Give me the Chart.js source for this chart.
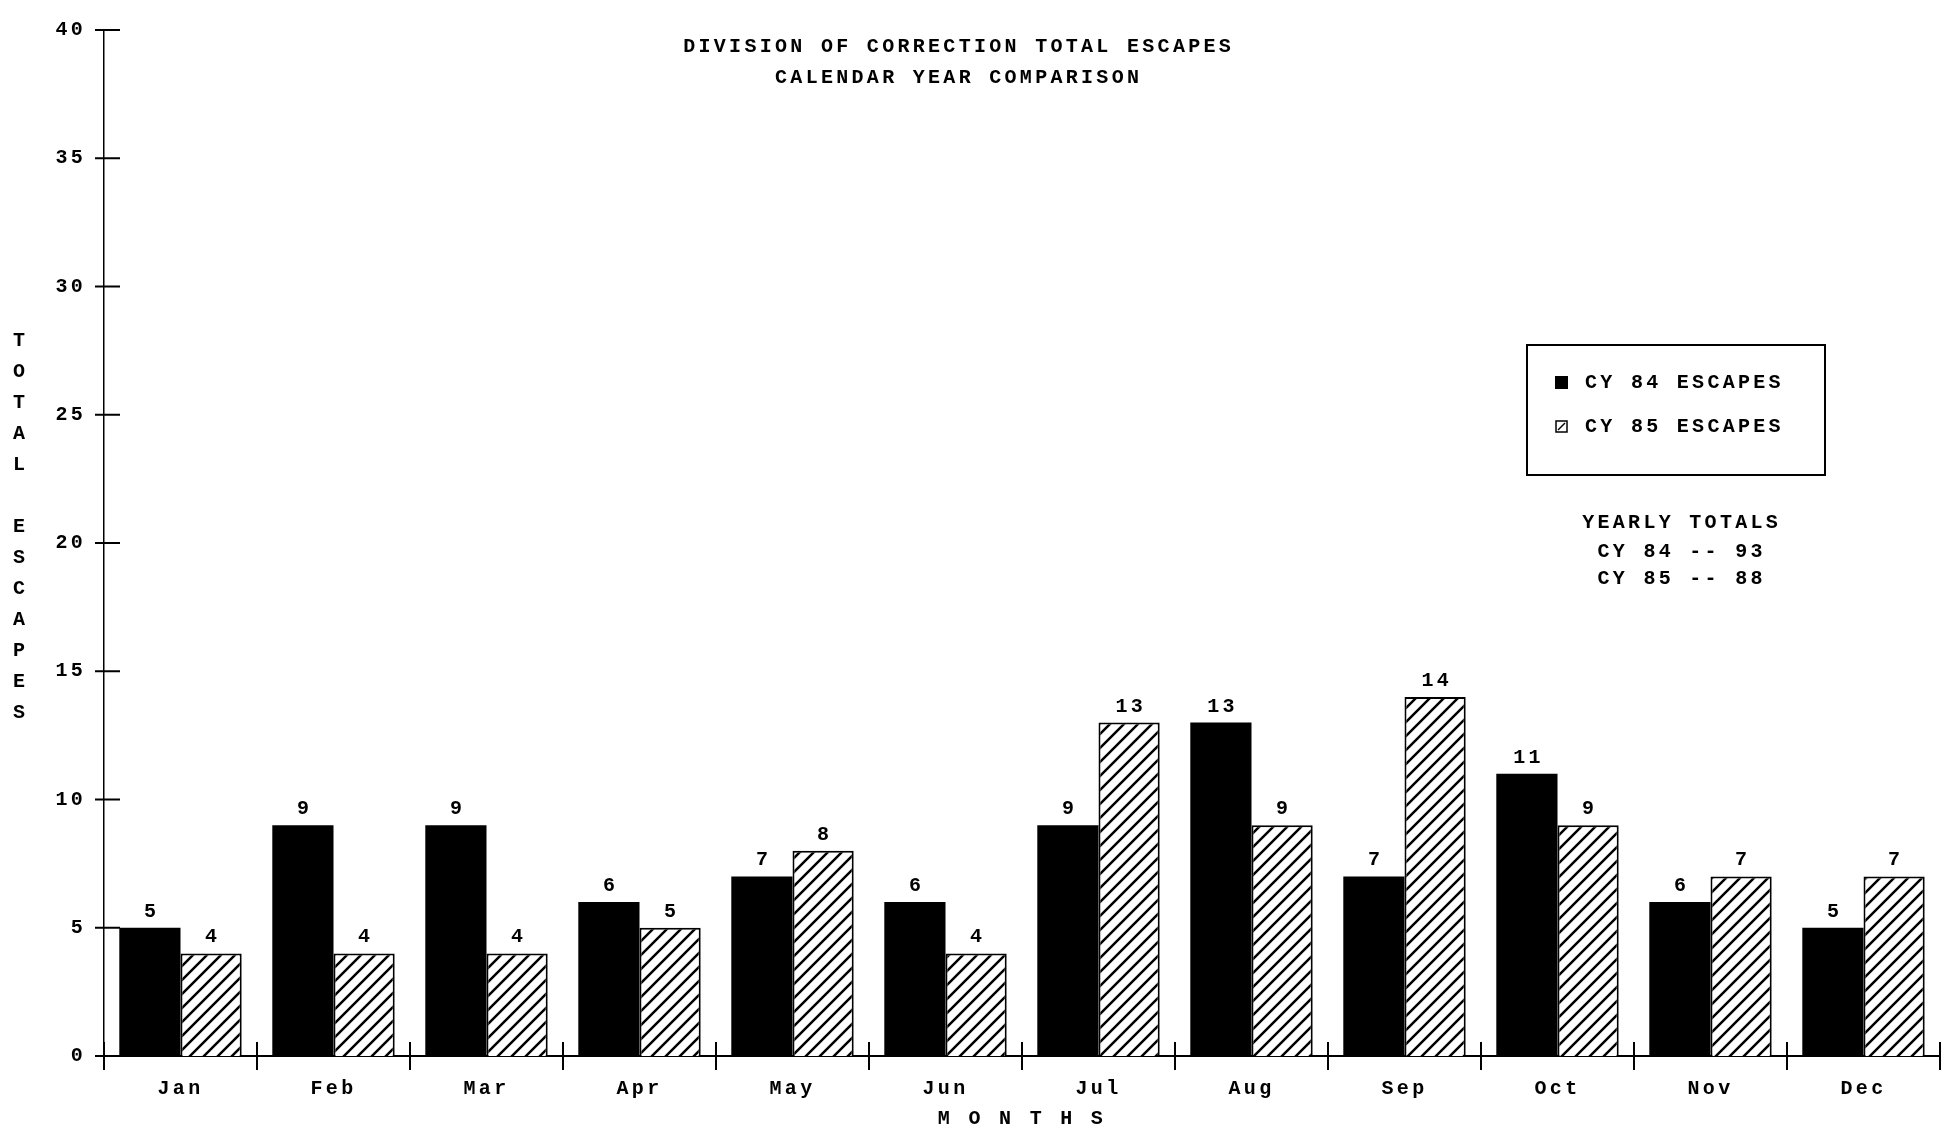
<!DOCTYPE html>
<html>
<head>
<meta charset="utf-8">
<script src="https://cdn.jsdelivr.net/npm/chart.js@4.4.7/dist/chart.umd.min.js"></script>
<style>
  html, body { margin: 0; padding: 0; background: #fff; }
  canvas { display: block; }
</style>
</head>
<body>
<canvas id="chart" width="1943" height="1133"></canvas>
<script>
  // data
  const months = ['Jan', 'Feb', 'Mar', 'Apr', 'May', 'Jun', 'Jul', 'Aug', 'Sep', 'Oct', 'Nov', 'Dec']
  const cy84 = [5, 9, 9, 6, 7, 6, 9, 13, 7, 11, 6, 5]
  const cy85 = [4, 4, 4, 5, 8, 4, 13, 9, 14, 9, 7, 7]
  const seriesNames = ['CY 84 ESCAPES', 'CY 85 ESCAPES']
  const totalNames = ['CY 84', 'CY 85']
  const titleLines = ['DIVISION OF CORRECTION TOTAL ESCAPES', 'CALENDAR YEAR COMPARISON']
  const yTitle = 'TOTAL ESCAPES'
  const xTitle = 'M O N T H S'
  const totalsHeading = 'YEARLY TOTALS'
  const yMin = 0
  const yMax = 40
  const yStep = 5

  const FONT_FAMILY = '"Liberation Mono", "DejaVu Sans Mono", monospace'
  const FONT_SIZE = 20
  const FONT = 'bold ' + FONT_SIZE + 'px ' + FONT_FAMILY
  const SPACING = 3.3

  /*
   * Diagonal "/" hatch used for the second series
   */
  function makeHatch() {
    const size = 14
    const c = document.createElement('canvas')
    c.width = size
    c.height = size
    const g = c.getContext('2d')
    g.fillStyle = '#fff'
    g.fillRect(0, 0, size, size)
    g.strokeStyle = '#000'
    g.lineWidth = 2.5
    g.beginPath()
    g.moveTo(-2, size + 2)
    g.lineTo(size + 2, -2)
    g.moveTo(-2, 2)
    g.lineTo(2, -2)
    g.moveTo(size - 2, size + 2)
    g.lineTo(size + 2, size - 2)
    g.stroke()
    return g.createPattern(c, 'repeat')
  }

  const hatch = makeHatch()

  // dot-matrix look: wide letter spacing on everything
  const spacingPlugin = {
    id: 'spacing',
    beforeUpdate(chart) { chart.ctx.letterSpacing = SPACING + 'px' },
    beforeDraw(chart) { chart.ctx.letterSpacing = SPACING + 'px' }
  }

  const decorPlugin = {
    id: 'decor',
    afterDraw(chart) {
      const ctx = chart.ctx
      const area = chart.chartArea
      const x = chart.scales.x
      const y = chart.scales.y
      ctx.save()
      ctx.letterSpacing = SPACING + 'px'
      ctx.strokeStyle = '#000'
      ctx.fillStyle = '#000'
      ctx.lineWidth = 2

      // tick marks crossing the axes
      ctx.beginPath()
      y.ticks.forEach((t) => {
        const py = y.getPixelForValue(t.value)
        ctx.moveTo(area.left - 9, py)
        ctx.lineTo(area.left + 16, py)
      })
      for (let i = 0; i <= months.length; i++) {
        const px = x.getPixelForValue(i - 0.5)
        ctx.moveTo(px, area.bottom - 14)
        ctx.lineTo(px, area.bottom + 14)
      }
      ctx.stroke()

      ctx.font = FONT
      ctx.textBaseline = 'middle'

      // values above bars
      ctx.textAlign = 'center'
      chart.data.datasets.forEach((ds, i) => {
        const meta = chart.getDatasetMeta(i)
        meta.data.forEach((bar, j) => {
          ctx.fillText(String(ds.data[j]), bar.x + SPACING / 2, bar.y - 16)
        })
      })

      // title
      titleLines.forEach((line, i) => {
        ctx.fillText(line, 957 + SPACING / 2, 47 + i * 31)
      })

      // stacked y axis title
      yTitle.split('').forEach((ch, i) => {
        if (ch !== ' ') ctx.fillText(ch, 19 + SPACING / 2, 341 + i * 31)
      })

      // legend box
      const box = { x: 1527, y: 345, w: 298, h: 130 }
      ctx.strokeRect(box.x, box.y, box.w, box.h)
      ctx.textAlign = 'left'
      chart.data.datasets.forEach((ds, i) => {
        const ly = 383 + i * 44
        if (i === 0) {
          ctx.fillRect(1555, ly - 7, 13, 13)
        } else {
          ctx.lineWidth = 1.5
          ctx.strokeRect(1556, ly - 6, 11, 11)
          ctx.beginPath()
          ctx.moveTo(1558, ly + 3)
          ctx.lineTo(1565, ly - 4)
          ctx.stroke()
        }
        ctx.fillText(ds.label, 1585, ly)
      })

      // yearly totals
      ctx.textAlign = 'center'
      ctx.fillText(totalsHeading, 1680 + SPACING / 2, 523)
      chart.data.datasets.forEach((ds, i) => {
        const sum = ds.data.reduce((a, b) => a + b, 0)
        ctx.fillText(totalNames[i] + ' -- ' + sum, 1680 + SPACING / 2, 552 + i * 27)
      })
      ctx.restore()
    }
  }

  const data = {
    labels: months,
    datasets: [
      {
        label: seriesNames[0],
        data: cy84,
        backgroundColor: '#000',
        borderColor: '#000',
        borderWidth: 0
      },
      {
        label: seriesNames[1],
        data: cy85,
        backgroundColor: hatch,
        borderColor: '#000',
        borderWidth: 2
      }
    ]
  }

  const tickFont = { family: FONT_FAMILY, size: FONT_SIZE, weight: 'bold' }

  const config = {
    type: 'bar',
    data: data,
    options: {
      responsive: false,
      animation: false,
      categoryPercentage: 0.8,
      barPercentage: 1.0,
      layout: { padding: { top: 20, right: 3, bottom: 0, left: 0 } },
      plugins: {
        legend: { display: false },
        title: { display: false },
        tooltip: { enabled: false }
      },
      scales: {
        x: {
          grid: { display: false, drawTicks: false },
          border: { display: true, color: '#000', width: 2 },
          ticks: { color: '#000', font: tickFont, padding: 21, maxRotation: 0 },
          title: {
            display: true,
            text: xTitle,
            color: '#000',
            font: tickFont,
            padding: { top: 0, bottom: 2 }
          },
          afterFit(scale) { scale.height = 77 }
        },
        y: {
          min: yMin,
          max: yMax,
          grid: { display: false, drawTicks: false },
          border: { display: true, color: '#000', width: 1.5, dash: [4, 2] },
          ticks: { stepSize: yStep, color: '#000', font: tickFont, padding: 18 },
          afterFit(scale) { scale.width = 104 }
        }
      }
    },
    plugins: [spacingPlugin, decorPlugin]
  }

  const myChart = new Chart(document.getElementById('chart'), config)
</script>
</body>
</html>
